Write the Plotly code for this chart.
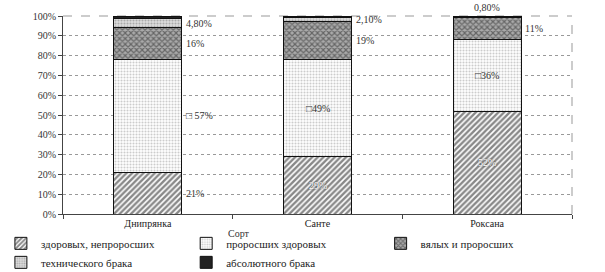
import plotly.graph_objects as go

categories = ["Днипрянка", "Санте", "Роксана"]
series_names = ["здоровых, непроросших", "проросших здоровых", "вялых и проросших",
                "технического брака", "абсолютного брака"]
healthy = [21, 29, 52]
sprouted_healthy = [57, 49, 36]
wilted_sprouted = [16, 19, 11]
tech_defect = [4.8, 2.1, 0.8]
abs_defect = [1.2, 0.9, 0.2]
label_texts = [
    ["21%", "29%", "52%"],
    ["□ 57%", "□49%", "□36%"],
    ["16%", "19%", "11%"],
    ["4,80%", "2,10%", "0,80%"],
]
# label placement: r = right of bar, i = inside bar, a = above bar
label_place = [
    ["r", "i", "i"],
    ["r", "i", "i"],
    ["r", "r", "r"],
    ["r", "r", "a"],
]
tick_vals = [0, 10, 20, 30, 40, 50, 60, 70, 80, 90, 100]
tick_text = [f"{v}%" for v in tick_vals]

series = [healthy, sprouted_healthy, wilted_sprouted, tech_defect, abs_defect]
patterns = [
    dict(shape="/", fgcolor="#111", bgcolor="white", size=4, solidity=0.6),
    dict(shape=".", fgcolor="#999", bgcolor="white", size=3, solidity=0.4),
    dict(shape="x", fgcolor="#222", bgcolor="#aaa", size=4, solidity=0.5),
    dict(shape=".", fgcolor="#777", bgcolor="#ddd", size=3, solidity=0.4),
    dict(shape="", fgcolor="#222", bgcolor="#222"),
]
fills = ["white", "white", "#aaa", "#ddd", "#222"]
legend_ids = ["legend", "legend2", "legend3", "legend", "legend2"]

FONT = "Liberation Serif, Times New Roman, serif"
fig = go.Figure()
for name, vals, pat, fc, lg in zip(series_names, series, patterns, fills, legend_ids):
    fig.add_trace(go.Bar(
        x=categories, y=vals, name=name, width=0.4, legend=lg,
        marker=dict(color=fc, pattern=pat, line=dict(color="#111", width=1)),
    ))

annotations = []
for si, texts in enumerate(label_texts):
    for ci, cat in enumerate(categories):
        base = sum(series[k][ci] for k in range(si))
        mid = base + series[si][ci] / 2
        place = label_place[si][ci]
        if place == "r":
            annotations.append(dict(x=cat, y=mid, text=texts[ci], showarrow=False,
                                    xanchor="left", xshift=36,
                                    font=dict(family=FONT, size=10, color="#333")))
        elif place == "i":
            if si == 1:
                f = dict(family=FONT, size=10, color="#333")
            else:
                f = dict(family=FONT, size=10, color="white",
                         shadow="0px 0px 2px #222")
            annotations.append(dict(x=cat, y=mid, text=texts[ci], showarrow=False,
                                    xanchor="center", font=f))
        else:
            annotations.append(dict(x=cat, y=100, text=texts[ci], showarrow=False,
                                    xanchor="center", yanchor="bottom", yshift=1,
                                    font=dict(family=FONT, size=10, color="#333")))

annotations.append(dict(xref="paper", yref="paper", x=0.345, y=-0.062, yanchor="top",
                        text="Сорт", showarrow=False,
                        font=dict(family=FONT, size=10, color="#333")))

legend_style = dict(orientation="v", yanchor="top", y=-0.075, xanchor="left",
                    font=dict(family=FONT, size=11, color="#222"), traceorder="normal",
                    itemwidth=30, tracegroupgap=0, bgcolor="rgba(0,0,0,0)")

fig.update_layout(
    barmode="stack",
    width=605, height=272,
    margin=dict(l=63, r=33, t=16, b=58, autoexpand=False),
    plot_bgcolor="white", paper_bgcolor="white",
    font=dict(family=FONT, size=10, color="#333"),
    annotations=annotations,
    showlegend=True,
    legend=dict(x=-0.122, **legend_style),
    legend2=dict(x=0.242, **legend_style),
    legend3=dict(x=0.624, **legend_style),
    shapes=[
        dict(type="line", xref="paper", yref="paper", x0=0, x1=1, y0=1, y1=1,
             line=dict(color="#999", width=1, dash="dash"), layer="below"),
        dict(type="line", xref="paper", yref="paper", x0=1, x1=1, y0=0, y1=1,
             line=dict(color="#999", width=1, dash="dash")),
    ],
)
fig.update_yaxes(range=[0, 100], tickvals=tick_vals, ticktext=tick_text,
                 showgrid=True, gridcolor="#999", griddash="dot", gridwidth=1,
                 showline=True, linecolor="#444", linewidth=1,
                 ticks="outside", ticklen=4, tickcolor="#444",
                 tickfont=dict(family=FONT, size=10, color="#333"), zeroline=False)
fig.update_xaxes(showline=True, linecolor="#444", linewidth=1, ticks="outside",
                 tickson="boundaries", ticklen=4, tickcolor="#444",
                 tickfont=dict(family=FONT, size=10, color="#222"), showgrid=False)

fig.write_html("out.html", config={"displayModeBar": False},
               post_script="document.body.style.margin='0';document.body.style.overflow='hidden';")
